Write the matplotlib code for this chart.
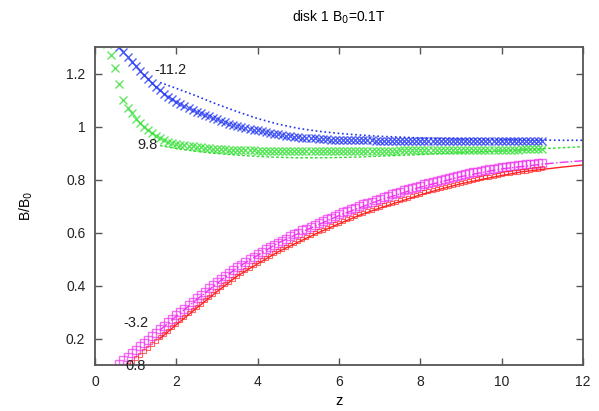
import numpy as np
import matplotlib
matplotlib.use("Agg")
from matplotlib import pyplot as plt

plt.rcParams['font.family'] = ['Liberation Sans', 'DejaVu Sans']

# measured points, one every 0.1 in z (start value given separately)
z0_blue = 0.6
b_blue = [1.300, 1.281, 1.262, 1.245, 1.228, 1.211, 1.195, 1.179, 1.163, 1.149,
          1.136, 1.124, 1.113, 1.103, 1.094, 1.085, 1.077, 1.070, 1.063, 1.056,
          1.050, 1.044, 1.038, 1.032, 1.027, 1.021, 1.016, 1.011, 1.006, 1.002,
          0.998, 0.994, 0.991, 0.988, 0.985, 0.982, 0.979, 0.976, 0.973, 0.970,
          0.968, 0.966, 0.964, 0.962, 0.960, 0.958, 0.957, 0.956, 0.955, 0.954,
          0.953, 0.952, 0.951, 0.950, 0.950, 0.949, 0.949, 0.949, 0.948, 0.948,
          0.948, 0.948, 0.948, 0.947, 0.947, 0.947, 0.947, 0.947, 0.947, 0.947,
          0.947, 0.946, 0.946, 0.946, 0.946, 0.946, 0.946, 0.946, 0.946, 0.946,
          0.946, 0.946, 0.946, 0.946, 0.946, 0.945, 0.945, 0.945, 0.945, 0.945,
          0.945, 0.945, 0.945, 0.945, 0.945, 0.945, 0.945, 0.945, 0.945, 0.945,
          0.945, 0.945, 0.945, 0.945, 0.945]

z0_green = 0.3
b_green = [1.310, 1.270, 1.220, 1.160, 1.100, 1.070, 1.050, 1.030, 1.014, 1.000,
           0.987, 0.975, 0.965, 0.955, 0.949, 0.943, 0.939, 0.935, 0.932, 0.929,
           0.927, 0.925, 0.923, 0.921, 0.919, 0.918, 0.917, 0.916, 0.915, 0.914,
           0.913, 0.912, 0.912, 0.911, 0.911, 0.910, 0.910, 0.909, 0.909, 0.908,
           0.908, 0.907, 0.907, 0.907, 0.906, 0.906, 0.906, 0.906, 0.906, 0.906,
           0.906, 0.906, 0.906, 0.906, 0.907, 0.907, 0.907, 0.907, 0.907, 0.907,
           0.908, 0.908, 0.908, 0.908, 0.908, 0.908, 0.909, 0.909, 0.909, 0.909,
           0.909, 0.909, 0.910, 0.910, 0.910, 0.910, 0.910, 0.910, 0.911, 0.911,
           0.911, 0.911, 0.911, 0.911, 0.911, 0.911, 0.912, 0.912, 0.912, 0.912,
           0.912, 0.912, 0.912, 0.912, 0.913, 0.913, 0.913, 0.913, 0.913, 0.913,
           0.913, 0.913, 0.914, 0.914, 0.914, 0.914, 0.914, 0.914]

z0_magenta = 0.6
b_magenta = [0.105, 0.118, 0.131, 0.144, 0.157, 0.170, 0.183, 0.196, 0.209, 0.222,
             0.235, 0.248, 0.261, 0.274, 0.287, 0.300, 0.313, 0.326, 0.339, 0.352,
             0.364, 0.377, 0.389, 0.401, 0.413, 0.425, 0.436, 0.447, 0.458, 0.469,
             0.479, 0.489, 0.499, 0.509, 0.518, 0.527, 0.536, 0.545, 0.553, 0.561,
             0.569, 0.577, 0.585, 0.593, 0.600, 0.608, 0.615, 0.622, 0.629, 0.636,
             0.643, 0.650, 0.656, 0.663, 0.669, 0.676, 0.682, 0.688, 0.694, 0.700,
             0.706, 0.712, 0.717, 0.723, 0.728, 0.734, 0.739, 0.744, 0.749, 0.754,
             0.759, 0.764, 0.768, 0.773, 0.777, 0.782, 0.786, 0.790, 0.794, 0.798,
             0.802, 0.806, 0.810, 0.814, 0.817, 0.821, 0.824, 0.827, 0.830, 0.833,
             0.836, 0.839, 0.841, 0.844, 0.846, 0.848, 0.850, 0.852, 0.854, 0.856,
             0.857, 0.859, 0.860, 0.862, 0.863]

z0_red = 0.8
b_red = [0.100, 0.113, 0.126, 0.139, 0.152, 0.165, 0.178, 0.191, 0.204, 0.217,
         0.230, 0.243, 0.256, 0.269, 0.282, 0.295, 0.307, 0.320, 0.332, 0.345,
         0.357, 0.369, 0.381, 0.393, 0.404, 0.415, 0.426, 0.437, 0.447, 0.457,
         0.467, 0.477, 0.486, 0.495, 0.504, 0.513, 0.521, 0.529, 0.537, 0.545,
         0.553, 0.561, 0.568, 0.576, 0.583, 0.590, 0.597, 0.604, 0.611, 0.618,
         0.624, 0.631, 0.637, 0.644, 0.650, 0.656, 0.662, 0.668, 0.674, 0.680,
         0.685, 0.691, 0.696, 0.702, 0.707, 0.712, 0.717, 0.722, 0.727, 0.732,
         0.737, 0.742, 0.746, 0.751, 0.755, 0.760, 0.764, 0.768, 0.772, 0.776,
         0.780, 0.784, 0.788, 0.792, 0.795, 0.799, 0.802, 0.805, 0.808, 0.811,
         0.814, 0.817, 0.820, 0.823, 0.825, 0.828, 0.830, 0.832, 0.834, 0.836,
         0.838, 0.840, 0.842]

# model curves, z = 1.6 .. 12
z_fit = [1.6, 2.0, 2.5, 3.0, 3.5, 4.0, 4.5, 5.0, 5.5, 6.0, 6.5, 7.0, 7.5, 8.0,
         8.5, 9.0, 9.5, 10.0, 10.5, 11.0, 11.5, 12.0]
fit_blue = [1.166, 1.144, 1.115, 1.084, 1.056, 1.030, 1.009, 0.993, 0.982, 0.974,
            0.968, 0.963, 0.960, 0.957, 0.955, 0.953, 0.952, 0.951, 0.950, 0.949,
            0.948, 0.948]
fit_green = [0.928, 0.917, 0.906, 0.898, 0.892, 0.887, 0.884, 0.882, 0.882, 0.883,
             0.885, 0.888, 0.891, 0.894, 0.898, 0.901, 0.905, 0.908, 0.912, 0.916,
             0.920, 0.924]
fit_magenta = [0.232, 0.284, 0.347, 0.408, 0.468, 0.514, 0.560, 0.596, 0.630, 0.664,
               0.693, 0.722, 0.746, 0.771, 0.791, 0.811, 0.826, 0.840, 0.849, 0.858,
               0.865, 0.871]
fit_red = [0.200, 0.252, 0.315, 0.377, 0.436, 0.482, 0.527, 0.564, 0.600, 0.633,
           0.665, 0.692, 0.717, 0.742, 0.764, 0.784, 0.800, 0.815, 0.829, 0.838,
           0.847, 0.855]

labels = ['-11.2', '9.8', '-3.2', '0.8']
label_pos = [(1.47, 1.213), (1.05, 0.93), (0.69, 0.258), (0.74, 0.097)]


def zgrid(z0, vals):
    return np.round(z0 + 0.1 * np.arange(len(vals)), 2)


fig = plt.figure(figsize=(5.99, 4.11), dpi=100)
ax = fig.add_axes([0.1586, 0.1119, 0.8147, 0.7737])

ax.plot(zgrid(z0_blue, b_blue), b_blue, 'x', color='#1a2ef0', ms=6, mew=1.0, alpha=0.75)
ax.plot(z_fit, fit_blue, ':', color='#2233ee', lw=1.2)
ax.plot(zgrid(z0_green, b_green), b_green, 'x', color='#2ee02e', ms=6, mew=1.0, alpha=0.75)
ax.plot(z_fit, fit_green, '--', color='#33dd33', lw=1.0, dashes=(2, 1.5))
ax.plot(zgrid(z0_magenta, b_magenta), b_magenta, 's', color='#f030f0', ms=5.5,
        mfc='none', mew=1.0, alpha=0.7)
ax.plot(z_fit, fit_magenta, '-.', color='#ee33ee', lw=1.0)
ax.plot(zgrid(z0_red, b_red), b_red, 's', color='#ff2a2a', ms=3.5, mfc='none',
        mew=0.8, alpha=0.7)
ax.plot(z_fit, fit_red, '-', color='#ff2222', lw=1.0)

for txt, (x, y) in zip(labels, label_pos):
    ax.text(x, y, txt, fontsize=10.5, color='#222222', ha='left', va='center')

ax.set_xlim(0, 12)
ax.set_ylim(0.1, 1.3)
ax.set_xticks([0, 2, 4, 6, 8, 10, 12])
ax.set_xticklabels(['0', '2', '4', '6', '8', '10', '12'])
ax.set_yticks([0.2, 0.4, 0.6, 0.8, 1.0, 1.2])
ax.set_yticklabels(['0.2', '0.4', '0.6', '0.8', '1', '1.2'])
ax.tick_params(direction='in', top=True, right=True, length=5, width=1,
               color='#555555', labelsize=10, labelcolor='#222222', pad=7)
for s in ax.spines.values():
    s.set_color('#555555')
    s.set_linewidth(1.3)

ax.set_xlabel('z', fontsize=10.5, labelpad=4)
ax.set_ylabel('B/B$_0$', fontsize=10, labelpad=22)
ax.set_title('disk 1 B$_0$=0.1T', fontsize=10, pad=18)

fig.savefig('out.png', dpi=100)
